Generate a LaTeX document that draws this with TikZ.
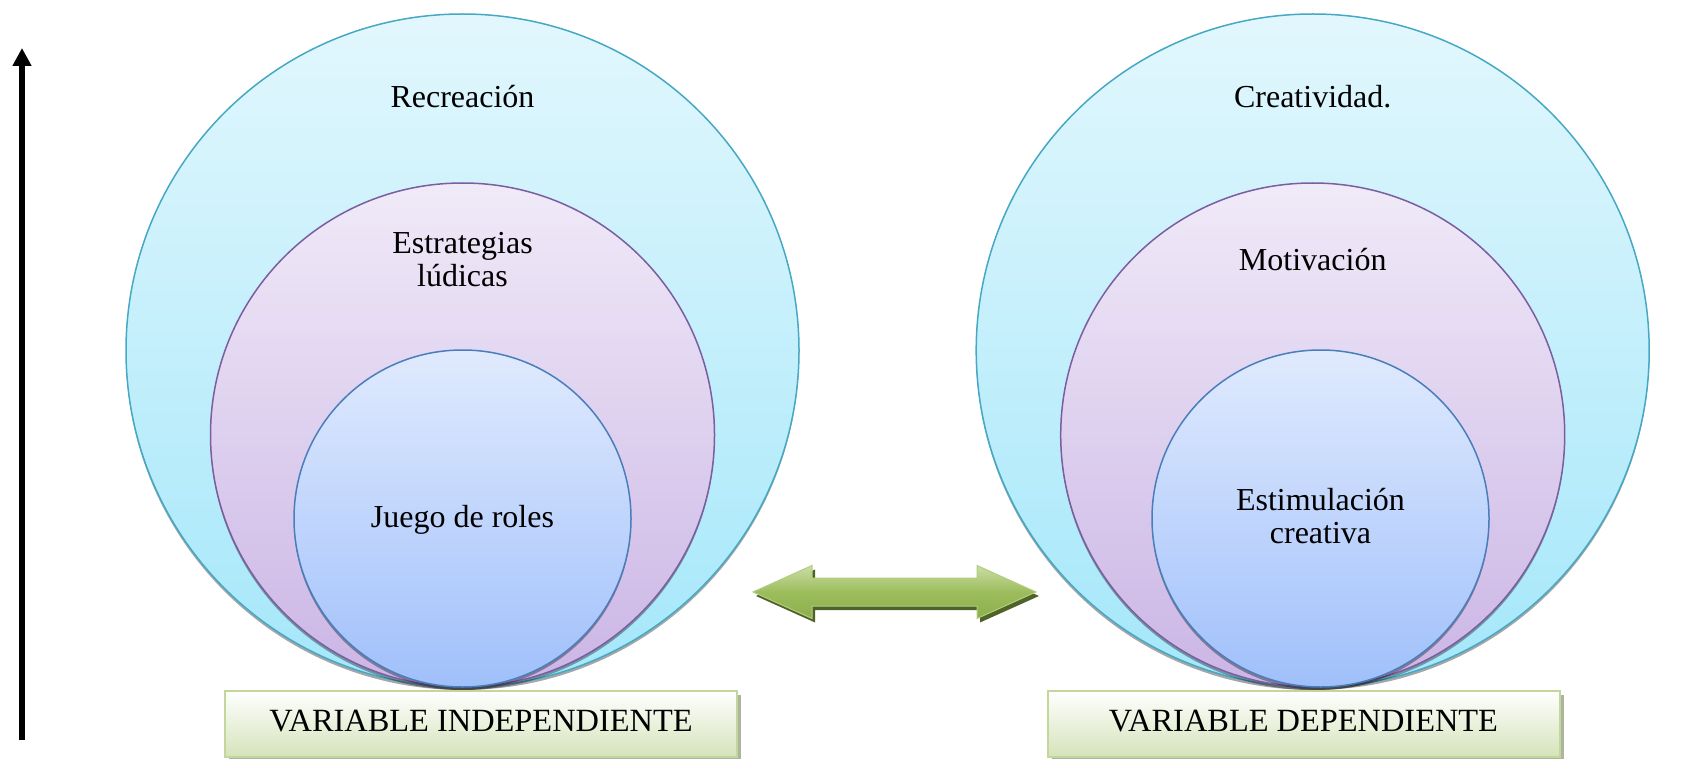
\documentclass[tikz,border=0pt]{standalone}
\usepackage{fontspec}
\setmainfont{Liberation Serif}
\usetikzlibrary{shadows,arrows.meta}
\definecolor{outTop}{HTML}{E2F7FD}
\definecolor{outBot}{HTML}{A4E7FA}
\definecolor{outLine}{HTML}{45A8C4}
\definecolor{midTop}{HTML}{F0EAF8}
\definecolor{midBot}{HTML}{CBB5E5}
\definecolor{midLine}{HTML}{7B5EA0}
\definecolor{inTop}{HTML}{E0EAFD}
\definecolor{inBot}{HTML}{A0C0FB}
\definecolor{inLine}{HTML}{4A7EBB}
\definecolor{boxLine}{HTML}{C3D69B}
\definecolor{boxBot}{HTML}{D5E3BA}
\definecolor{boxShadow}{HTML}{AEB59E}
\definecolor{arrTop}{HTML}{CADDA6}
\definecolor{arrMid}{HTML}{9DBD5C}
\definecolor{arrBot}{HTML}{8CAE4C}
\definecolor{arrLine}{HTML}{B2CD80}
\definecolor{arrShadow}{HTML}{4F6228}
\begin{document}
\begin{tikzpicture}[x=1pt,y=-1pt,
  ring/.style={circle,inner sep=0pt,outer sep=0pt,line width=1.5pt,
    drop shadow={shadow xshift=0pt,shadow yshift=-3pt,opacity=.35,fill=black}},
  outerc/.style={ring,draw=outLine,top color=outTop,bottom color=outBot,minimum size=673pt},
  midc/.style={ring,draw=midLine,top color=midTop,bottom color=midBot,minimum size=504pt},
  innerc/.style={ring,draw=inLine,top color=inTop,bottom color=inBot,minimum size=337pt},
  lbl/.style={anchor=base,inner sep=0pt,font=\fontsize{32}{33}\selectfont},
  varbox/.style={rectangle,draw=boxLine,line width=2pt,top color=white,bottom color=boxBot,
    minimum width=512pt,inner ysep=0pt,text height=40.3pt,text depth=25.7pt,
    font=\fontsize{32.4}{33}\selectfont,
    drop shadow={shadow xshift=4pt,shadow yshift=-4pt,opacity=1,fill=boxShadow}}
]
\useasboundingbox (0,0) rectangle (1704,759);

% vertical arrow
\coordinate (vb) at (22,740);
\coordinate (vt) at (22,48);
\draw[line width=6pt,-{Triangle[width=18pt,length=18pt]}] (vb) -- (vt);

% left set of circles
\node[outerc] (L1) at (462.5,350.5) {};
\node[midc]   (L2) at (462.5,435) {};
\node[innerc] (L3) at (462.5,518.5) {};
\node[lbl] (tL1) at (462.5,107.3) {Recreación};
\node[lbl] (tL2a) at (462.5,254) {Estrategias};
\node[lbl] (tL2b) at (462.5,286.6) {lúdicas};
\node[lbl] (tL3) at (462.5,527.3) {Juego de roles};

% right set of circles
\node[outerc] (R1) at (1312.7,350.5) {};
\node[midc]   (R2) at (1312.7,435) {};
\node[innerc] (R3) at (1320.5,518.5) {};
\node[lbl] (tR1) at (1312.7,107.3) {Creatividad.};
\node[lbl] (tR2) at (1312.7,270.3) {Motivación};
\node[lbl] (tR3a) at (1320.5,510) {Estimulación};
\node[lbl] (tR3b) at (1320.5,543) {creativa};

% boxes
\node[varbox] (VI) at (481,724) {VARIABLE INDEPENDIENTE};
\node[varbox] (VD) at (1303.5,724) {VARIABLE DEPENDIENTE};

% double arrow
\coordinate (arr) at (894.5,592);
\fill[arrShadow,shift={(arr)},xshift=3pt,yshift=-4pt]
  (-141.5,0) -- (-82.5,-26.5) -- (-82.5,-14) -- (82.5,-14) -- (82.5,-26.5) -- (141.5,0)
  -- (82.5,26.5) -- (82.5,14) -- (-82.5,14) -- (-82.5,26.5) -- cycle;
\draw[draw=arrLine,line width=1pt,top color=arrTop,bottom color=arrBot,middle color=arrMid,shift={(arr)}]
  (-141.5,0) -- (-82.5,-26.5) -- (-82.5,-14) -- (82.5,-14) -- (82.5,-26.5) -- (141.5,0)
  -- (82.5,26.5) -- (82.5,14) -- (-82.5,14) -- (-82.5,26.5) -- cycle;
\end{tikzpicture}
\end{document}
